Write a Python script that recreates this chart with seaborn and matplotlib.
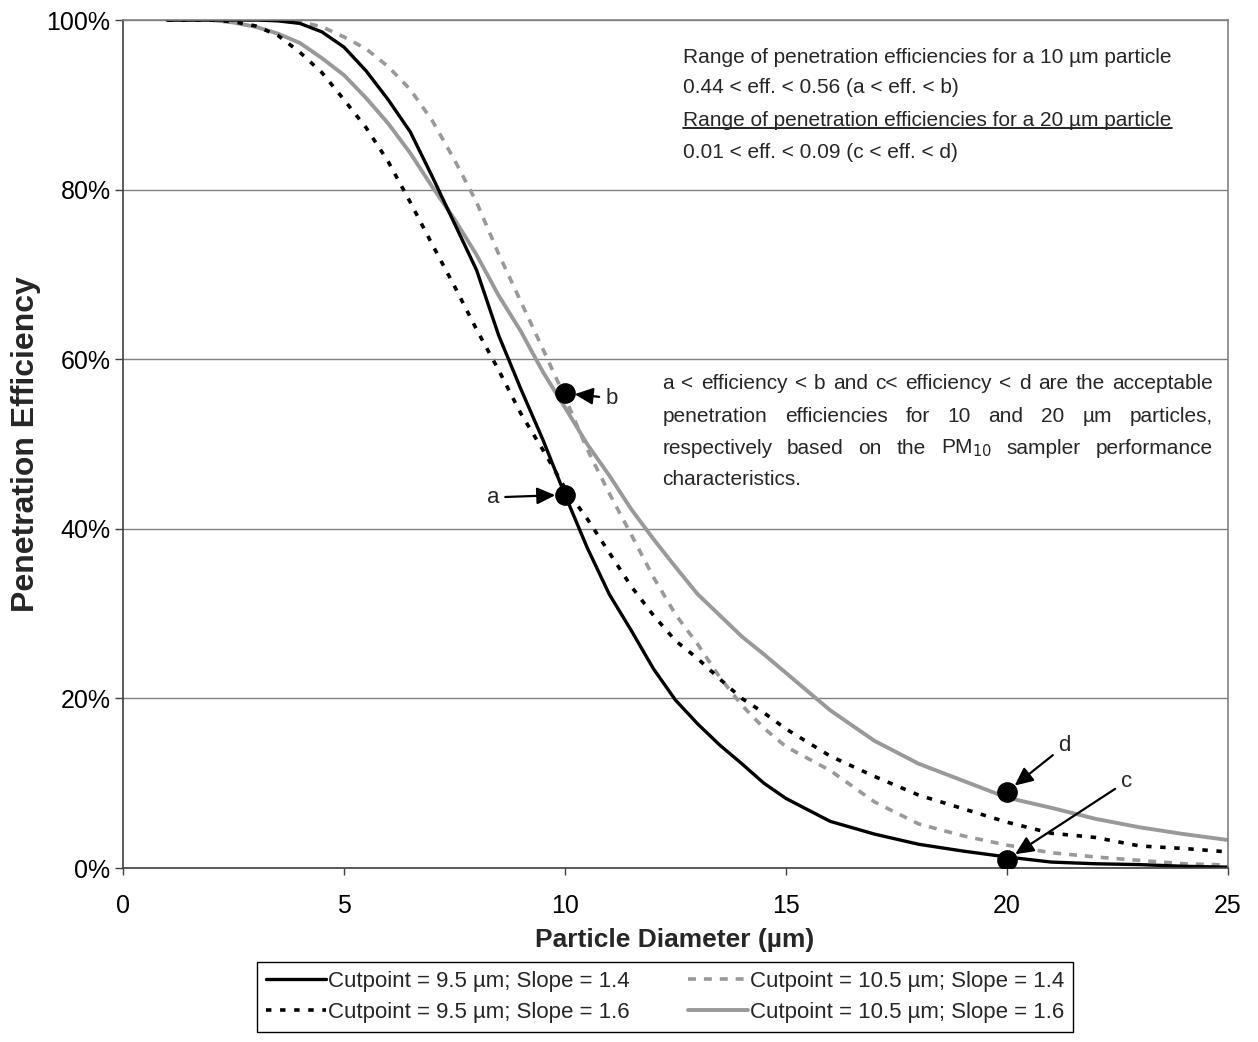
import matplotlib
matplotlib.use("Agg")
import matplotlib.pyplot as plt
import numpy as np
import pandas as pd
import seaborn as sns
from matplotlib.ticker import PercentFormatter, MultipleLocator
from matplotlib.lines import Line2D

# Particle diameter grid (µm) and penetration efficiency (%) for each sampler model
diameter_um = [1, 2, 2.5, 3, 3.5, 4, 4.5, 5, 5.5, 6, 6.5, 7, 7.5, 8, 8.5, 9, 9.5,
               10, 10.5, 11, 11.5, 12, 12.5, 13, 13.5, 14, 14.5, 15, 16, 17, 18,
               19, 20, 21, 22, 23, 24, 25]

eff_cut95_slope14 = [100, 100, 100, 100, 99.9, 99.6, 98.6, 96.8, 94.0, 90.6, 86.8,
                     81.5, 76.0, 70.5, 62.8, 56.5, 50.5, 44.0, 37.8, 32.3, 28.0,
                     23.5, 19.8, 17.0, 14.5, 12.3, 10.0, 8.2, 5.5, 4.0, 2.8, 2.0,
                     1.3, 0.7, 0.5, 0.4, 0.2, 0.1]

eff_cut95_slope16 = [100, 100, 99.8, 99.3, 98.2, 96.2, 93.8, 90.6, 87.3, 83.3, 78.5,
                     73.5, 68.6, 63.5, 58.7, 53.6, 49.3, 44.8, 41.2, 37.2, 33.2,
                     29.8, 26.8, 24.7, 22.3, 20.0, 18.3, 16.4, 13.2, 10.8, 8.6,
                     7.0, 5.4, 4.1, 3.6, 2.6, 2.3, 1.9]

eff_cut105_slope14 = [100, 100, 100, 100, 100, 99.8, 99.2, 98.0, 96.6, 94.5, 91.8,
                      88.1, 83.5, 78.5, 72.4, 66.8, 61.2, 55.5, 49.4, 44.2, 39.3,
                      34.3, 29.9, 26.4, 22.5, 19.2, 16.5, 14.3, 11.5, 7.8, 5.2,
                      3.8, 2.7, 1.8, 1.3, 0.9, 0.5, 0.35]

eff_cut105_slope16 = [100, 100, 99.7, 99.2, 98.4, 97.3, 95.5, 93.5, 90.8, 87.8, 84.3,
                      80.3, 76.5, 72.3, 67.5, 63.3, 58.5, 54.3, 50.0, 46.3, 42.3,
                      38.8, 35.5, 32.3, 29.8, 27.3, 25.2, 23.0, 18.6, 15.0, 12.3,
                      10.3, 8.3, 7.1, 5.8, 4.8, 4.0, 3.3]

series_labels = ["Cutpoint = 9.5 µm; Slope = 1.4",
                 "Cutpoint = 9.5 µm; Slope = 1.6",
                 "Cutpoint = 10.5 µm; Slope = 1.4",
                 "Cutpoint = 10.5 µm; Slope = 1.6"]

# Acceptance limits a, b (10 µm) and c, d (20 µm)
limit_names = ["a", "b", "c", "d"]
limit_diam = [10, 10, 20, 20]
limit_eff = [44, 56, 1, 9]

sns.set_theme(style="white")
plt.rcParams["font.family"] = ["Liberation Sans", "DejaVu Sans"]
FONT = ["Liberation Sans", "DejaVu Sans"]

fig = plt.figure(figsize=(12.58, 10.42), dpi=100)
ax = fig.add_axes([123 / 1258, 174 / 1042, 1105 / 1258, 848 / 1042])

GRAY = "#999999"
styles = [
    dict(color="black", lw=2.4, linestyle="-"),
    dict(color="black", lw=2.6, linestyle=(0, (1.5, 2.4))),
    dict(color=GRAY, lw=2.6, linestyle=(0, (2.2, 2.2))),
    dict(color=GRAY, lw=2.8, linestyle="-"),
]
values = [eff_cut95_slope14, eff_cut95_slope16, eff_cut105_slope14, eff_cut105_slope16]

draw_order = [3, 2, 1, 0]
for i in draw_order:
    df = pd.DataFrame({"d": diameter_um, "e": values[i]})
    sns.lineplot(data=df, x="d", y="e", ax=ax, sort=False, estimator=None,
                 **styles[i])

sns.scatterplot(x=limit_diam, y=limit_eff, ax=ax, color="black", s=190,
                marker="o", edgecolor="black", zorder=6)

ax.set_xlim(0, 25)
ax.set_ylim(0, 100)
ax.xaxis.set_major_locator(MultipleLocator(5))
ax.yaxis.set_major_locator(MultipleLocator(20))
ax.yaxis.set_major_formatter(PercentFormatter(decimals=0))
ax.yaxis.grid(True, color="#808080", lw=1)
ax.xaxis.grid(False)
for side in ["top", "right", "bottom", "left"]:
    ax.spines[side].set_visible(True)
    ax.spines[side].set_color("#808080")
    ax.spines[side].set_linewidth(1.2)
ax.spines["left"].set_color("#404040")
ax.spines["bottom"].set_color("#404040")
ax.tick_params(axis="both", direction="out", width=1, color="#404040",
               labelsize=18, labelcolor="black")
ax.tick_params(axis="x", bottom=True, length=5, pad=14)
ax.tick_params(axis="y", left=True, length=6, pad=3)

ax.set_xlabel("Particle Diameter (µm)", fontsize=19, fontweight="bold")
ax.xaxis.set_label_coords(552 / 1105, -60 / 848)
ax.set_ylabel("Penetration Efficiency", fontsize=23, fontweight="bold")
ax.yaxis.set_label_coords(-82 / 1105, 0.5)

# Arrows pointing to the acceptance limits
arrow_kw = dict(arrowstyle="-|>,head_length=0.65,head_width=0.3", color="black",
                lw=1.6, mutation_scale=17, shrinkA=2, shrinkB=7)
label_pos = {"a": (8.37, 43.7), "b": (11.05, 55.4), "c": (22.7, 10.2), "d": (21.3, 14.4)}
for name, xd, yd in zip(limit_names, limit_diam, limit_eff):
    ax.annotate(name, xy=(xd, yd), xytext=label_pos[name], fontsize=16,
                ha="center", va="center", arrowprops=arrow_kw)

# Summary of the acceptable ranges
summary = ["Range of penetration efficiencies for a 10 µm particle",
           "0.44 < eff. < 0.56 (a < eff. < b)",
           "Range of penetration efficiencies for a 20 µm particle",
           "0.01 < eff. < 0.09 (c < eff. < d)"]
summary_y = [95.6, 92.0, 88.2, 84.4]
summary_texts = []
for s, yv in zip(summary, summary_y):
    summary_texts.append(ax.text(12.68, yv, s, fontsize=15, family=FONT,
                                 ha="left", va="center"))

fig.canvas.draw()
renderer = fig.canvas.get_renderer()
inv = ax.transData.inverted()
bb = summary_texts[2].get_window_extent(renderer)
(ux0, uy0), (ux1, _) = inv.transform([(bb.x0, bb.y0 + 2), (bb.x1, bb.y0 + 2)])
ax.plot([ux0, ux1], [uy0, uy0], color="black", lw=1.2)

# Justified explanatory paragraph
para = [["a", "<", "efficiency", "<", "b", "and", "c<", "efficiency", "<", "d", "are",
         "the", "acceptable"],
        ["penetration", "efficiencies", "for", "10", "and", "20", "µm", "particles,"],
        ["respectively", "based", "on", "the", "PM$_{10}$", "sampler", "performance"],
        ["characteristics."]]
para_y = [57.1, 53.3, 49.5, 45.8]
x_left, x_right = 12.2, 24.65
px_per_unit = ax.transData.transform((1, 0))[0] - ax.transData.transform((0, 0))[0]
for li, (words, yv) in enumerate(zip(para, para_y)):
    texts = [ax.text(0, yv, w, fontsize=15, family=FONT, ha="left", va="center")
             for w in words]
    widths = [t.get_window_extent(renderer).width / px_per_unit for t in texts]
    if li < len(para) - 1 and len(words) > 1:
        gap = (x_right - x_left - sum(widths)) / (len(words) - 1)
    else:
        gap = 0.12
    xpos = x_left
    for t, w in zip(texts, widths):
        t.set_x(xpos)
        xpos += w + gap

handles = [Line2D([0], [0], **styles[i]) for i in range(4)]
leg = fig.legend(handles, series_labels, ncol=2, loc="lower center",
                 bbox_to_anchor=(665 / 1258, 10 / 1042), borderaxespad=0,
                 frameon=True, fancybox=False, edgecolor="black", framealpha=1,
                 prop={"family": FONT, "size": 16}, handlelength=2.7,
                 handletextpad=0.1, columnspacing=2.6, borderpad=0.4,
                 labelspacing=0.45)
leg.get_frame().set_linewidth(1.0)

fig.savefig("out.png", dpi=100)
